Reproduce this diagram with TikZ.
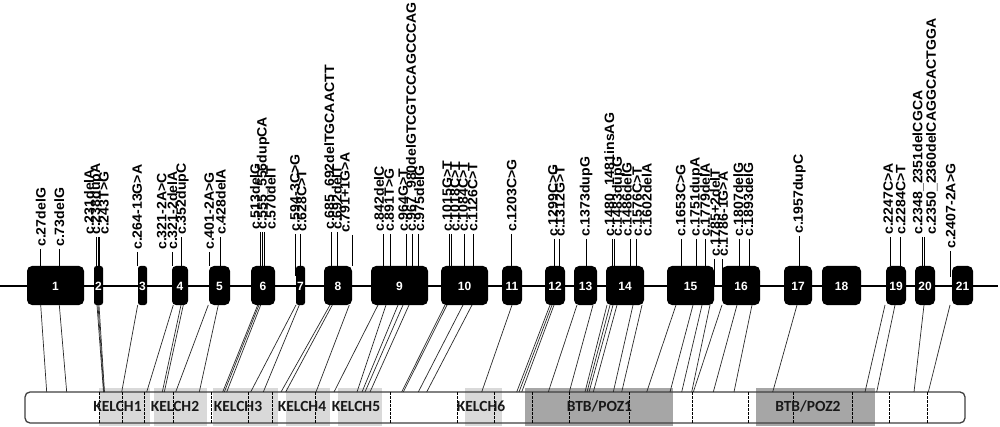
\documentclass[tikz,border=0pt]{standalone}
\usepackage{fontspec}
\setmainfont{Liberation Sans}
\newfontfamily\domfont{Carlito}
\usetikzlibrary{calc}
\definecolor{kelchgray}{HTML}{D9D9D9}
\definecolor{btbgray}{HTML}{A6A6A6}
\definecolor{barclr}{HTML}{404040}
\definecolor{connclr}{HTML}{2A2A2A}
\begin{document}
\begin{tikzpicture}[x=1pt,y=-1pt,
  exnum/.style={text=white,font=\fontsize{12}{12}\selectfont\bfseries,inner sep=0pt},
  varlab/.style={rotate=90,anchor=west,inner sep=0pt,font=\fontsize{14.1}{15}\selectfont\bfseries},
  tickline/.style={line width=1pt,black},
  conn/.style={line width=0.7pt,draw=connclr},
  domlab/.style={font=\domfont\fontsize{15.5}{16}\selectfont\bfseries,text=black!90,inner sep=0pt},
  exbound/.style={line width=0.9pt,black,dash pattern=on 2.5pt off 1.5pt}]
\useasboundingbox (0,0) rectangle (1000,427);
\fill[white] (0,0) rectangle (1000,427);

% main gene line
\draw[line width=2.6pt] (0,286) -- (998,286);

% exons
\foreach \l/\r/\n/\rc in {27/84/1/5, 94/103/2/2.5, 138/147/3/2.5, 172/188/4/4, 209/230/5/5,
  251/275/6/5, 296/305/7/2.5, 324/352/8/5, 371/428/9/5, 441/488/10/5, 502/522/11/5,
  545/565/12/5, 574/597/13/5, 606/644/14/5, 667/714/15/5, 722/760/16/5, 784/812/17/5,
  822/861/18/5, 886/906/19/5, 915/935/20/5, 952/973/21/5}{
  \fill[black,rounded corners=\rc pt] (\l,266) rectangle (\r,305);
  \node[exnum] (ex\n) at ({(\l+\r)/2},286.5) {\n};
}

% ticks from labels to exons
\foreach \x/\a/\b in {40.7/249/266, 59.3/249/266, 96.5/237/266, 98/237/266, 99.5/237/266,
  137.5/252/266, 172/252/266, 181.7/237/266, 209.5/252/266, 220/237/266,
  260/232/266, 262.2/232/266, 264.3/232/266, 295/234/276, 300.7/234/266,
  331.7/232/266, 337.3/232/266, 352.7/235/266,
  383.3/234/266, 390.7/234/266, 406/234/266, 412.7/234/266, 418.3/234/266,
  449.3/234/266, 451/234/266, 464.3/234/266, 473.3/234/266, 511.7/234/266,
  554/239/266, 559.3/239/266, 586/239/266, 612.7/239/266, 614/239/266, 630/239/266, 636/239/266,
  681.7/239/266, 696.7/239/266, 705.7/239/266, 714.3/259/287, 722.3/259/287, 739/239/266, 749/239/266,
  799.3/236/266, 890/237/266, 900.7/237/266, 922.7/237/266, 924.3/237/266, 950.7/251/277}{
  \draw[tickline] (\x,\a) -- (\x,\b);
}

% variant labels
\foreach \x/\y/\txt [count=\i] in {40.7/247/c.27delG, 59.3/247/c.73delG, 89/235/c.231delA,
  96.7/235/c.238dupA, 104/235/c.243T>G, 137.3/250/c.264-13G>A, 161.7/250/c.321-2A>C,
  172.3/250/c.321-2delA, 182.3/235/c.352dupC, 209.3/250/c.401-2A>G, 220.7/235/c.428delA,
  255/230/c.513delG, 263/230/c.555\_556dupCA, 270.7/230/c.570delT, 295/232/c.594-3C>G,
  301.7/232/c.628C>T, 330/230/c.685\_692delTGCAACTT, 336.7/230/c.692delT, 345/233/c.791+1G>A,
  379/232/c.842delC, 389.3/232/c.891T>G, 403.3/232/c.964G>T, 411.7/232/c.967\_980delGTCGTCCAGCCCAG,
  419.3/232/c.975delG, 447.3/232/c.1015G>T, 455/232/c.1018C>T, 463.3/232/c.1084C>T,
  472.7/232/c.1126C>T, 511.7/232/c.1203C>G, 553/237/c.1299C>G, 560/237/c.1312G>T,
  586/237/c.1373dupG, 610/237/c.1480\_1481insAG, 618.3/237/c.1483dupG, 626.7/237/c.1486delG,
  637.3/237/c.1576C>T, 646.7/237/c.1602delA, 680.7/237/c.1653C>G, 696/237/c.1751dupA,
  705/237/c.1779delA, 715/257/c.1785+2delT, 723.3/257/c.1786-1G>A, 738.3/237/c.1807delG,
  748.3/237/c.1893delG, 799.3/234/c.1957dupC, 888.3/235/c.2247C>A, 900.7/235/c.2284C>T,
  918.3/235/c.2348\_2351delCGCA, 931.7/235/c.2350\_2360delCAGGCACTGGA, 950.7/249/c.2407-2A>G}{
  \node[varlab] (v\i) at (\x,\y) {\scalebox{1}[0.96]{\txt}};
}

% protein bar
\fill[white,rounded corners=5pt] (25,392) rectangle (965,423);
\foreach \l/\r in {99/150, 154/207, 213/278, 286/330, 338/382, 465/502}{
  \fill[kelchgray] (\l,388) rectangle (\r,426);
}
\foreach \l/\r in {525/673, 756/875}{
  \fill[btbgray] (\l,388) rectangle (\r,426);
}
\draw[barclr,line width=1.3pt,rounded corners=5pt] (25,392) rectangle (965,423);
\foreach \x in {99,122,144,173,211,248,272,315,390,457,494,532,569,629,692,748,793,852,889,927}{
  \draw[exbound] (\x,392) -- (\x,423);
}

% connectors exon -> protein
\foreach \a/\b in {40.7/46.7, 59.3/66.7, 97/103.5, 98/104, 99/104.5, 137.7/121.7,
  173.3/146.7, 181/162.3, 183.3/164.3, 208.3/175.7, 218.3/199.3,
  257.7/222.7, 259/224.3, 260.7/226.7, 296/250.7, 299.3/263.3,
  330/281, 332.3/285.7, 349.3/316,
  378/334, 386/357, 398/362, 403/365, 409/370,
  445/401.7, 447/403.3, 463/418.3, 472/426.7, 512/481.7,
  550/516.7, 552/519, 554/521.7, 577/548.3, 593/569.3,
  607/585, 610/587, 613/589, 617/593.3, 633/613.3, 642/621.7,
  676/646.7, 693/670, 702/681.7, 710/691.7, 722/693.3, 737/713.3, 752/734,
  797/772.7, 885/865, 895/876.7, 924/914, 950/928.3}{
  \draw[conn] (\a,305) -- (\b,392);
}

% domain labels
\foreach \x/\txt [count=\i] in {117.5/KELCH1, 175/KELCH2, 238/KELCH3, 302/KELCH4, 356/KELCH5,
  481/KELCH6}{
  \node[domlab] (d\i) at (\x,406.5) {\txt};
}
\node[domlab] (btb1) at (599.5,406.5) {BTB/POZ1};
\node[domlab] (btb2) at (808,406.5) {BTB/POZ2};
\end{tikzpicture}
\end{document}
